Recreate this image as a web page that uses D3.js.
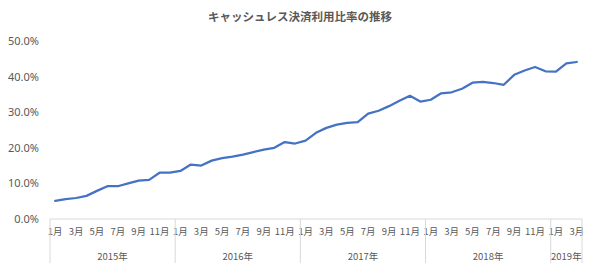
<!DOCTYPE html>
<html>
<head>
<meta charset="utf-8">
<script src="https://cdn.jsdelivr.net/npm/d3@7"></script>
<style>
  body { margin: 0; background: #fff; }
  svg { display: block; }
  text { font-family: "Noto Sans CJK JP", "Noto Sans", sans-serif; }
</style>
</head>
<body>
<svg id="chart" width="600" height="277"></svg>
<script>
const title = "キャッシュレス決済利用比率の推移";
const years = ["2015年", "2016年", "2017年", "2018年", "2019年"];
const monthsPerYear = [12, 12, 12, 12, 3];
const monthLabels = ["1月","2月","3月","4月","5月","6月","7月","8月","9月","10月","11月","12月"];
const values = [
  5.1, 5.6, 5.9, 6.5, 7.9, 9.2, 9.2, 10.0, 10.8, 11.0, 13.0, 13.0,
  13.5, 15.3, 15.0, 16.4, 17.1, 17.5, 18.1, 18.8, 19.5, 20.0, 21.6, 21.2,
  22.0, 24.2, 25.6, 26.5, 27.0, 27.2, 29.6, 30.4, 31.7, 33.2, 34.6, 33.0,
  33.5, 35.3, 35.6, 36.6, 38.3, 38.5, 38.2, 37.7, 40.5, 41.7, 42.7, 41.5,
  41.4, 43.7, 44.1
];
const yTicks = [0, 10, 20, 30, 40, 50];

(function () {
const cats = [];
years.forEach((yv, yi) => {
  for (let m = 0; m < monthsPerYear[yi]; m++) cats.push({ year: yv, yi: yi, m: m, key: yv + "-" + (m + 1) });
});
const data = cats.map((c, i) => ({ ...c, v: values[i] }));

const svg = d3.select("#chart");
const pLeft = 50, pRight = 582, pTop = 41, pBottom = 219;
const x = d3.scaleBand().domain(cats.map(c => c.key)).range([pLeft, pRight]).padding(0);
const y = d3.scaleLinear().domain([0, 50]).range([pBottom, pTop]);
const textColor = "#595959";

svg.append("text")
  .attr("x", 300).attr("y", 21)
  .attr("text-anchor", "middle")
  .attr("font-size", 11.5).attr("font-weight", "bold")
  .attr("fill", textColor)
  .text(title);

const yAxis = d3.axisLeft(y).tickValues(yTicks).tickSize(0).tickPadding(0)
  .tickFormat(d => d.toFixed(1) + "%");
const yg = svg.append("g").attr("transform", `translate(39,0)`).call(yAxis);
yg.select(".domain").remove();
yg.selectAll("text").attr("font-size", 11).attr("fill", textColor)
  .style("font-family", '"Noto Sans", sans-serif');

const gridColor = "#d9d9d9";
svg.append("line").attr("x1", pLeft).attr("x2", pRight).attr("y1", pBottom).attr("y2", pBottom)
  .attr("stroke", gridColor).attr("stroke-width", 1);

const xAxis = d3.axisBottom(x).tickSize(0).tickPadding(0)
  .tickValues(cats.filter(c => c.m % 2 === 0).map(c => c.key))
  .tickFormat(k => monthLabels[cats.find(c => c.key === k).m]);
const xg = svg.append("g").attr("transform", `translate(0,${pBottom + 9})`).call(xAxis);
xg.select(".domain").remove();
xg.selectAll("text").attr("font-size", 9.5).attr("fill", textColor).attr("dy", "0.75em");

const yearStarts = [];
let idx = 0;
years.forEach((yr, yi) => {
  const first = cats[idx].key, last = cats[idx + monthsPerYear[yi] - 1].key;
  yearStarts.push({ yr, x0: x(first), x1: x(last) + x.bandwidth() });
  idx += monthsPerYear[yi];
});
const seps = [pLeft].concat(yearStarts.map(d => d.x1));
svg.selectAll("line.sep").data(seps).enter().append("line")
  .attr("class", "sep")
  .attr("x1", d => d).attr("x2", d => d)
  .attr("y1", pBottom).attr("y2", 263)
  .attr("stroke", gridColor).attr("stroke-width", 1);
svg.selectAll("text.yr").data(yearStarts).enter().append("text")
  .attr("class", "yr")
  .attr("x", d => (d.x0 + d.x1) / 2).attr("y", 260)
  .attr("text-anchor", "middle")
  .attr("font-size", 9.5).attr("fill", textColor)
  .text(d => d.yr);

const line = d3.line().x(d => x(d.key) + x.bandwidth() / 2).y(d => y(d.v));
svg.append("path").datum(data)
  .attr("d", line).attr("fill", "none")
  .attr("stroke", "#4472C4").attr("stroke-width", 2.25)
  .attr("stroke-linejoin", "round").attr("stroke-linecap", "round");
})();
</script>
</body>
</html>
